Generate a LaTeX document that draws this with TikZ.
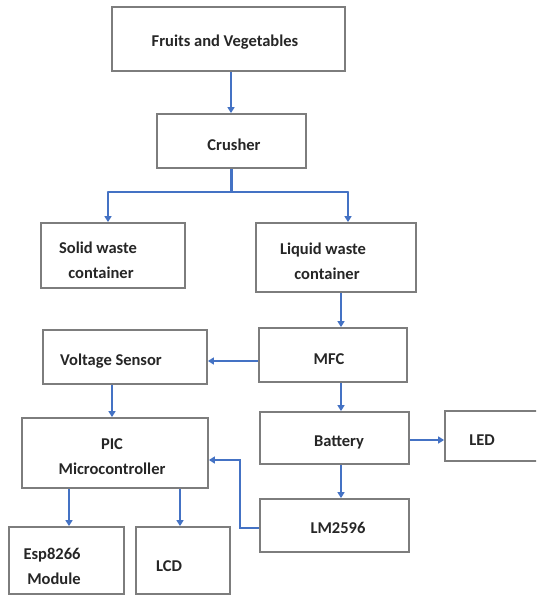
\documentclass[tikz,border=0pt]{standalone}
\usepackage{fontspec}
\setmainfont{Carlito}
\usetikzlibrary{arrows.meta,calc}
\definecolor{arrblue}{RGB}{68,114,196}
\definecolor{boxgray}{RGB}{125,125,125}
\tikzset{
  box/.style={draw=boxgray,line width=1.8pt,fill=white,inner sep=0pt},
  txt/.style={font=\bfseries\fontsize{16.5}{25}\selectfont,align=center,inner sep=0pt,text=black!85},
  arr/.style={draw=arrblue,line width=2.3pt,-{Triangle[length=6pt,width=7pt]}},
  ln/.style={draw=arrblue,line width=2.3pt}
}
\begin{document}
\begin{tikzpicture}[x=1pt,y=-1pt]
\clip (0,0) rectangle (536,596);
\fill[white] (0,0) rectangle (536,596);
% boxes
\node[box,minimum width=233pt,minimum height=64pt] (fruits) at (228.5,39) {};
\node[box,minimum width=149pt,minimum height=54pt] (crusher) at (231.5,141) {};
\node[box,minimum width=144pt,minimum height=65pt] (solid) at (113,255.5) {};
\node[box,minimum width=160pt,minimum height=69pt] (liquid) at (336,257.5) {};
\node[box,minimum width=148pt,minimum height=54pt] (mfc) at (333,355) {};
\node[box,minimum width=164pt,minimum height=54pt] (volt) at (125,357) {};
\node[box,minimum width=186pt,minimum height=70pt] (pic) at (115,453) {};
\node[box,minimum width=149pt,minimum height=52pt] (battery) at (334.5,438) {};
\node[box,minimum width=120pt,minimum height=50pt] (led) at (505,436) {};
\node[box,minimum width=149pt,minimum height=53pt] (lm) at (334.5,525.5) {};
\node[box,minimum width=115pt,minimum height=67pt] (esp) at (66.5,560.5) {};
\node[box,minimum width=94pt,minimum height=67pt] (lcd) at (183,560.5) {};
% texts
\node[txt] (tfruits) at (225,42) {Fruits and Vegetables};
\node[txt] (tcrusher) at (234,145) {Crusher};
\node[txt] (tsolid) at (98,260) {Solid waste\\\hspace*{6pt}container};
\node[txt] (tliquid) at (323,261) {Liquid waste\\\hspace*{8pt}container};
\node[txt] (tvolt) at (111,361) {Voltage Sensor};
\node[txt] (tmfc) at (329,359) {MFC};
\node[txt] (tpic) at (112,457) {PIC\\Microcontroller};
\node[txt] (tbattery) at (339,442) {Battery};
\node[txt] (tled) at (482,440) {LED};
\node[txt] (tlm) at (338,528) {LM2596};
\node[txt] (tesp) at (52,566) {Esp8266\\\hspace*{4pt}Module};
\node[txt] (tlcd) at (169,566) {LCD};
% guide coordinates
\coordinate (split) at (231.5,192);
\coordinate (sl) at (108,192);
\coordinate (sr) at (348,192);
\coordinate (gx0) at (231,0);
\coordinate (gx1) at (341,0);
\coordinate (gy1) at (0,361);
\coordinate (gx2) at (112,0);
\coordinate (gy2) at (0,440);
\coordinate (gx3) at (69,0);
\coordinate (gx4) at (180,0);
\coordinate (gy3) at (0,528);
\coordinate (bend) at (240,460);
% connectors
\draw[arr] (gx0 |- fruits.south) -- (gx0 |- crusher.north);
\draw[ln] (crusher.south) -- (split);
\draw[ln,line cap=round] (sl) -- (sr);
\draw[arr] (sl) -- (sl |- solid.north);
\draw[arr] (sr) -- (sr |- liquid.north);
\draw[arr] (gx1 |- liquid.south) -- (gx1 |- mfc.north);
\draw[arr] (mfc.west |- gy1) -- (volt.east |- gy1);
\draw[arr] (gx2 |- volt.south) -- (gx2 |- pic.north);
\draw[arr] (gx1 |- mfc.south) -- (gx1 |- battery.north);
\draw[arr] (battery.east |- gy2) -- (led.west |- gy2);
\draw[arr] (gx1 |- battery.south) -- (gx1 |- lm.north);
\draw[arr] (lm.west |- gy3) -| (bend) -- (pic.east |- bend);
\draw[arr] (gx3 |- pic.south) -- (gx3 |- esp.north);
\draw[arr] (gx4 |- pic.south) -- (gx4 |- lcd.north);
\end{tikzpicture}
\end{document}
